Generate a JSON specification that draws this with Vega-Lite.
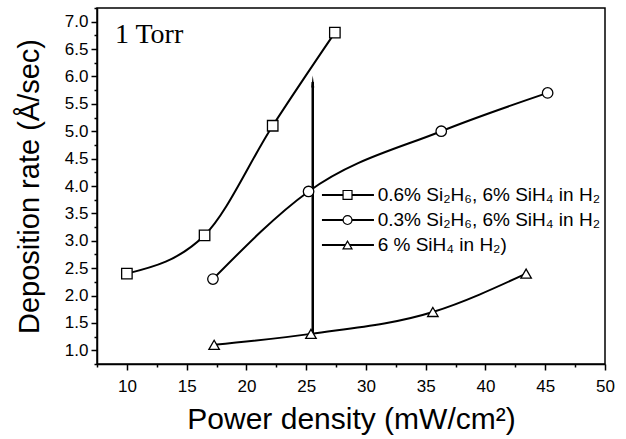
{
  "$schema": "https://vega.github.io/schema/vega-lite/v6.json",
  "width": 508,
  "height": 356,
  "autosize": {"type": "none"},
  "padding": {"left": 97, "top": 8, "right": 21, "bottom": 75},
  "background": "white",
  "config": {
    "view": {"stroke": "black", "strokeWidth": 1.5},
    "axis": {
      "grid": false,
      "domainColor": "black",
      "domainWidth": 1.5,
      "tickColor": "black",
      "tickWidth": 1.5,
      "labelColor": "black",
      "labelFont": "Liberation Sans",
      "titleFont": "Liberation Sans",
      "titleFontWeight": "normal",
      "titleColor": "black",
      "labelOverlap": false,
      "labelFlush": false,
      "labelBound": false
    }
  },
  "datasets": {
    "curves": [
      {"series": "sq", "x": 10, "y": 2.4},
      {"series": "sq", "x": 16.5, "y": 3.1},
      {"series": "sq", "x": 22.2, "y": 5.1},
      {"series": "sq", "x": 27.4, "y": 6.8},
      {"series": "ci", "x": 17.2, "y": 2.3},
      {"series": "ci", "x": 25.2, "y": 3.9},
      {"series": "ci", "x": 36.3, "y": 5.0},
      {"series": "ci", "x": 45.2, "y": 5.7},
      {"series": "tr", "x": 17.3, "y": 1.1},
      {"series": "tr", "x": 25.4, "y": 1.3},
      {"series": "tr", "x": 35.6, "y": 1.7},
      {"series": "tr", "x": 43.4, "y": 2.4}
    ],
    "arrow": [{"x": 25.55, "y": 1.3, "y2": 5.9}],
    "arrowhead": [{"x": 25.55, "y": 5.91}],
    "legend": [
      {"series": "sq", "x1": 26.32, "x2": 30.67, "xm": 28.46, "xt": 30.98, "y": 3.836, "label": "0.6% Si₂H₆, 6% SiH₄ in H₂"},
      {"series": "ci", "x1": 26.32, "x2": 30.67, "xm": 28.46, "xt": 30.98, "y": 3.379, "label": "0.3% Si₂H₆, 6% SiH₄ in H₂"},
      {"series": "tr", "x1": 26.32, "x2": 30.67, "xm": 28.46, "xt": 30.98, "y": 2.923, "label": "6 % SiH₄ in H₂)"}
    ],
    "note": [{"x": 9.0, "y": 6.61, "text": "1 Torr"}]
  },
  "layer": [
    {
      "data": {"name": "curves"},
      "mark": {"type": "line", "interpolate": "monotone", "color": "black", "strokeWidth": 2},
      "encoding": {
        "x": {
          "field": "x", "type": "quantitative",
          "scale": {"domain": [7.5, 50], "nice": false, "zero": false},
          "axis": {
            "title": "Power density (mW/cm²)",
            "titleFontSize": 30,
            "titlePadding": 10,
            "labelFontSize": 17,
            "labelPadding": 8,
            "tickCount": 100,
            "values": [7.5, 10, 12.5, 15, 17.5, 20, 22.5, 25, 27.5, 30, 32.5, 35, 37.5, 40, 42.5, 45, 47.5, 50],
            "labelExpr": "datum.value % 5 === 0 ? format(datum.value, 'd') : ''",
            "tickSize": {"condition": {"test": "datum.value % 5 !== 0", "value": 3}, "value": 6}
          }
        },
        "y": {
          "field": "y", "type": "quantitative",
          "scale": {"domain": [0.75, 7.25], "nice": false, "zero": false},
          "axis": {
            "title": "Deposition rate (Å/sec)",
            "titleFontSize": 29,
            "titlePadding": 20,
            "labelFontSize": 17,
            "labelPadding": 3,
            "tickCount": 100,
            "values": [0.75, 1, 1.25, 1.5, 1.75, 2, 2.25, 2.5, 2.75, 3, 3.25, 3.5, 3.75, 4, 4.25, 4.5, 4.75, 5, 5.25, 5.5, 5.75, 6, 6.25, 6.5, 6.75, 7, 7.25],
            "labelExpr": "abs(datum.value * 2 - round(datum.value * 2)) < 0.001 ? format(datum.value, '.1f') : ''",
            "tickSize": {"condition": {"test": "abs(datum.value * 2 - round(datum.value * 2)) > 0.001", "value": 3}, "value": 6}
          }
        },
        "detail": {"field": "series"}
      }
    },
    {
      "data": {"name": "arrow"},
      "mark": {"type": "rule", "color": "black", "strokeWidth": 2.5},
      "encoding": {
        "x": {"field": "x", "type": "quantitative"},
        "y": {"field": "y", "type": "quantitative"},
        "y2": {"field": "y2"}
      }
    },
    {
      "data": {"name": "arrowhead"},
      "mark": {"type": "point", "shape": "M0,-1L0.25,1L-0.25,1Z", "size": 144, "filled": true, "color": "black", "opacity": 1},
      "encoding": {
        "x": {"field": "x", "type": "quantitative"},
        "y": {"field": "y", "type": "quantitative"}
      }
    },
    {
      "data": {"name": "curves"},
      "mark": {"type": "point", "filled": false, "fill": "white", "fillOpacity": 1, "stroke": "black", "strokeWidth": 1.3, "opacity": 1, "size": 110},
      "encoding": {
        "x": {"field": "x", "type": "quantitative"},
        "y": {"field": "y", "type": "quantitative"},
        "shape": {"field": "series", "type": "nominal", "scale": {"domain": ["sq", "ci", "tr"], "range": ["square", "circle", "triangle-up"]}, "legend": null}
      }
    },
    {
      "data": {"name": "legend"},
      "mark": {"type": "rule", "color": "black", "strokeWidth": 2},
      "encoding": {
        "x": {"field": "x1", "type": "quantitative"},
        "x2": {"field": "x2"},
        "y": {"field": "y", "type": "quantitative"}
      }
    },
    {
      "data": {"name": "legend"},
      "mark": {"type": "point", "filled": false, "fill": "white", "fillOpacity": 1, "stroke": "black", "strokeWidth": 1.2, "opacity": 1, "size": 80},
      "encoding": {
        "x": {"field": "xm", "type": "quantitative"},
        "y": {"field": "y", "type": "quantitative"},
        "shape": {"field": "series", "type": "nominal", "legend": null}
      }
    },
    {
      "data": {"name": "legend"},
      "mark": {"type": "text", "align": "left", "baseline": "middle", "font": "Liberation Sans", "fontSize": 19, "color": "black"},
      "encoding": {
        "x": {"field": "xt", "type": "quantitative"},
        "y": {"field": "y", "type": "quantitative"},
        "text": {"field": "label"}
      }
    },
    {
      "data": {"name": "note"},
      "mark": {"type": "text", "align": "left", "baseline": "alphabetic", "font": "Liberation Serif", "fontSize": 28, "color": "black"},
      "encoding": {
        "x": {"field": "x", "type": "quantitative"},
        "y": {"field": "y", "type": "quantitative"},
        "text": {"field": "text"}
      }
    }
  ]
}
